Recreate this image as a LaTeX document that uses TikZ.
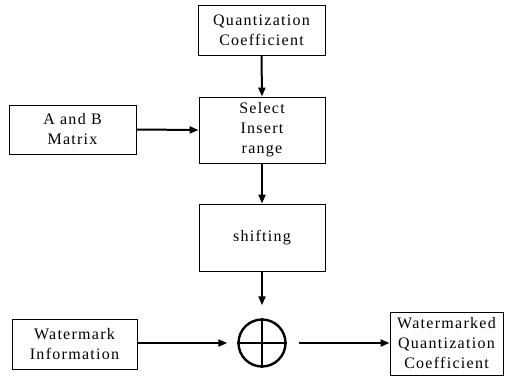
\documentclass[tikz,border=0pt]{standalone}
\usepackage{fontspec}
\setmainfont{Liberation Serif}[LetterSpace=8]
\usetikzlibrary{arrows.meta}
\begin{document}
\begin{tikzpicture}[x=1pt,y=-1pt,
  blk/.style={draw,line width=0.9pt,align=center,inner sep=0pt,font=\fontsize{16}{20}\selectfont},
  conn/.style={line width=2pt,-{Triangle[length=9pt,width=7pt]}},
  sumc/.style={draw,circle,line width=2.4pt,minimum size=47pt,inner sep=0pt}]
\useasboundingbox (0,0) rectangle (513,378);
\node[blk,minimum width=127pt,minimum height=50pt] (qc) at (261.5,30) {Quantization\\Coefficient};
\node[blk,minimum width=126pt,minimum height=66pt] (sel) at (262,130) {Select\\Insert\\range};
\node[blk,minimum width=127pt,minimum height=49pt] (ab) at (72.5,129.5) {A and B\\Matrix};
\node[blk,minimum width=126pt,minimum height=67pt] (sh) at (262,237.5) {shifting};
\node[blk,minimum width=125pt,minimum height=50pt] (wi) at (74.5,344) {Watermark\\Information};
\node[sumc] (sum) at (262,343) {};
\draw[line width=2.4pt] (sum.north) -- (sum.south) (sum.west) -- (sum.east);
\node[blk,minimum width=113pt,minimum height=63pt] (wq) at (446.5,343.5) {Watermarked\\Quantization\\Coefficient};
\draw[conn] (qc.south) -- (sel.north);
\draw[conn] (ab.east) -- (sel.west);
\draw[conn] (sel.south) -- (sh.north);
\draw[conn,shorten >=13pt] (sh.south) -- (sum.north);
\draw[conn,shorten >=10pt] (sum.west -| wi.east) -- (sum.west);
\draw[conn,shorten <=12pt] (sum.east) -- (sum.east -| wq.west);
\end{tikzpicture}
\end{document}
